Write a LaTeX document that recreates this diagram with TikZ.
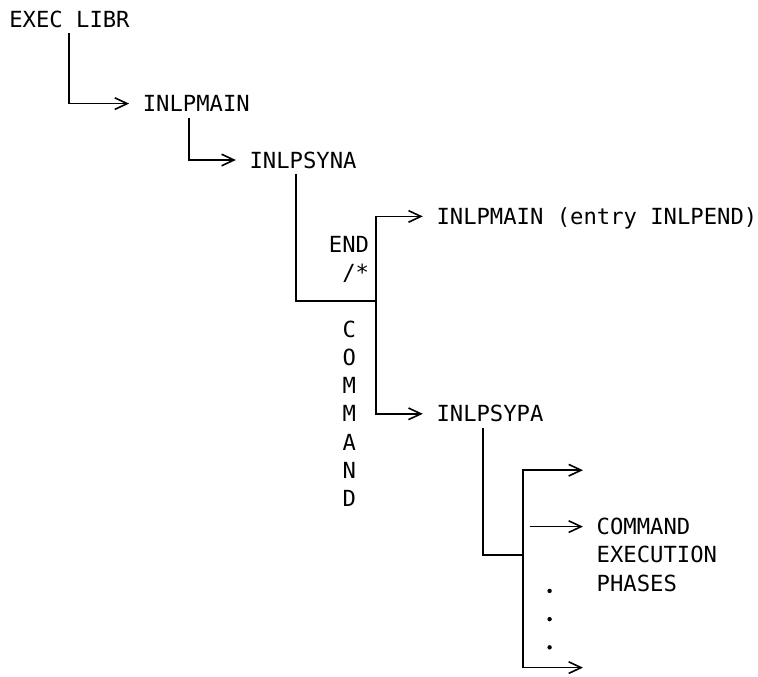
\documentclass[tikz,border=0pt]{standalone}
\usepackage{fontspec}
\newfontfamily\listfont{DejaVu Sans Mono}
\usetikzlibrary{calc,arrows.meta}
\tikzset{
  gridtext/.style={font=\listfont\fontsize{11.1pt}{14.1pt}\selectfont, inner sep=0pt, text height=8.1pt, text depth=0pt},
  link/.style={line width=0.8pt},
  callarrow/.style={link, -{Straight Barb[length=6.2pt,width=5.8pt,sep=0pt]}},
  totext/.style={shorten >=6.675pt},
  dotmark/.style={circle, fill, inner sep=0pt, minimum size=2.2pt},
}

\begin{document}
\begin{tikzpicture}[x=6.675pt,y=-14.1pt]
  \useasboundingbox (-1.1685,-0.674) rectangle (55.61,23.30);
  \node[gridtext,anchor=west] (libr) at (-0.5,0) {EXEC LIBR};
  \node[gridtext,anchor=west] (main) at (9.5,3) {INLPMAIN};
  \node[gridtext,anchor=west] (syna) at (17.5,5) {INLPSYNA};
  \node[gridtext,anchor=west] (pend) at (31.5,7) {INLPMAIN (entry INLPEND)};
  \node[gridtext,anchor=east] (endkw) at (26.5,8) {END};
  \node[gridtext,anchor=east] (eof) at (26.5,9) {/*};
  \foreach \ch [count=\i] in {C,O,M,M,A,N,D}
    \node[gridtext] (cmd\i) at (25,10+\i) {\ch};
  \node[gridtext,anchor=west] (sypa) at (31.5,14) {INLPSYPA};
  \foreach \txt [count=\i] in {COMMAND,EXECUTION,PHASES}
    \node[gridtext,anchor=west] (phase\i) at (43.5,17+\i) {\txt};
  \foreach \i in {1,2,3}
    \node[dotmark] (dot\i) at (40,19.28+\i) {};
  \coordinate (split) at (27,10);
  \coordinate (fork) at (38,19);
  \coordinate (freetop) at (42.5,16);
  \coordinate (freebot) at (42.5,23);

  \draw[callarrow,totext] ($(libr.west)+(4.5,0.5)$) |- (main.west);
  \draw[callarrow,totext] ($(main.west)+(3.5,0.5)$) |- (syna.west);
  \draw[link] ($(syna.west)+(3.5,0.5)$) |- (split);
  \draw[callarrow,totext] (split) |- (pend.west);
  \draw[callarrow,totext] (split) |- (sypa.west);
  \draw[link] ($(sypa.west)+(3.5,0.5)$) |- (fork);
  \draw[callarrow] (fork) |- (freetop);
  \draw[callarrow] (fork) |- (freebot);
  \draw[callarrow,totext] ($(phase1.west)+(-5,0)$) -- (phase1.west);
\end{tikzpicture}
\end{document}
